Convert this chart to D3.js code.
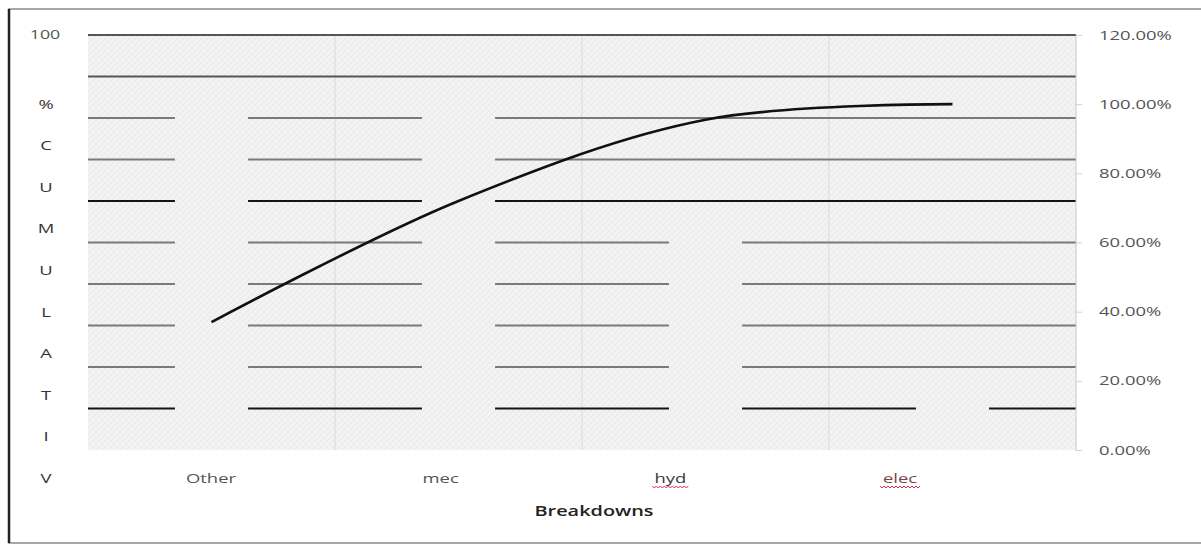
<!DOCTYPE html>
<html>
<head>
<meta charset="utf-8">
<script src="https://cdn.jsdelivr.net/npm/d3@7"></script>
<style>
  html, body { margin: 0; padding: 0; background: #fff; }
  svg { display: block; font-family: "Open Sans", "DejaVu Sans", sans-serif; }
</style>
</head>
<body>
<svg id="chart" width="1201" height="545"></svg>
<script>
// Breakdown categories and their counts (bars, left axis)
const categories = ["Other", "mec", "hyd", "elec"];
const counts = [88, 83, 56, 11];
// Cumulative share per category (line, right axis)
const cumulative = [0.37, 0.72, 0.955, 1.0];
// Axis tick values
const leftTicks = [10, 20, 30, 40, 50, 60, 70, 80, 90, 100];
const rightTicks = [0, 0.2, 0.4, 0.6, 0.8, 1.0, 1.2];
const strongTicks = [60, 10];
const titleLetters = ["%", "C", "U", "M", "U", "L", "A", "T", "I", "V"];

const svg = d3.select("#chart");
const plot = { left: 88, right: 1076, top: 35, bottom: 450 };
const STRETCH = 1.42; // wide lettering used throughout the chart

// Places a horizontally widened label at (x, y)
function label(parent, x, y, txt, opts) {
  const g = parent.append("g").attr("transform", `translate(${x},${y}) scale(${STRETCH},1)`);
  return g.append("text")
    .attr("dy", "0.35em")
    .attr("text-anchor", opts.anchor || "middle")
    .attr("font-size", opts.size || 13)
    .attr("font-weight", opts.weight || 400)
    .attr("fill", opts.fill || "#555")
    .text(txt);
}

// Outer frame
svg.append("rect")
  .attr("x", 9).attr("y", 9).attr("width", 1200).attr("height", 534)
  .attr("fill", "#fff").attr("stroke", "#8a8a8a").attr("stroke-width", 1.5);
svg.append("line")
  .attr("x1", 9).attr("x2", 9).attr("y1", 9).attr("y2", 543)
  .attr("stroke", "#222").attr("stroke-width", 2.5);

// Textured fill shared by plot background and bars
const defs = svg.append("defs");
const pat = defs.append("pattern")
  .attr("id", "tex").attr("patternUnits", "userSpaceOnUse")
  .attr("width", 6).attr("height", 6);
pat.append("rect").attr("width", 6).attr("height", 6).attr("fill", "#f3f3f3");
pat.append("path").attr("d", "M0,6 L6,0").attr("stroke", "#e8e8e8").attr("stroke-width", 1);
pat.append("path").attr("d", "M0,0 L6,6").attr("stroke", "#eeeeee").attr("stroke-width", 0.7);

// Scales
const x = d3.scaleBand().domain(categories)
  .range([plot.left, plot.right]).paddingInner(0.704).paddingOuter(0.352);
const yLeft = d3.scaleLinear().domain([0, 100]).range([plot.bottom, plot.top]);
const yRight = d3.scaleLinear().domain([0, 1.2]).range([plot.bottom, plot.top]);
const xLabel = d3.scalePoint().domain(categories).range([211, 900]);
const cx = c => x(c) + x.bandwidth() / 2;

// Plot background
svg.append("rect")
  .attr("x", plot.left).attr("y", plot.top)
  .attr("width", plot.right - plot.left).attr("height", plot.bottom - plot.top)
  .attr("fill", "url(#tex)");

// Faint category dividers
svg.append("g").selectAll("line")
  .data(categories.slice(1))
  .join("line")
  .attr("x1", d => x(d) - x.step() * x.paddingInner() / 2)
  .attr("x2", d => x(d) - x.step() * x.paddingInner() / 2)
  .attr("y1", plot.top).attr("y2", plot.bottom)
  .attr("stroke", "#e2e2e2").attr("stroke-width", 1.5);

// Horizontal gridlines
svg.append("g").selectAll("line")
  .data(leftTicks)
  .join("line")
  .attr("x1", plot.left).attr("x2", plot.right)
  .attr("y1", d => yLeft(d)).attr("y2", d => yLeft(d))
  .attr("stroke", d => strongTicks.includes(d) ? "#151515" : (d >= 90 ? "#555" : "#7a7a7a"))
  .attr("stroke-width", d => strongTicks.includes(d) ? 2.2 : 1.8);

// Bars in the same texture, so they mask the gridlines behind them
svg.append("g").selectAll("rect")
  .data(categories)
  .join("rect")
  .attr("x", d => x(d))
  .attr("width", x.bandwidth())
  .attr("y", (d, i) => yLeft(counts[i]))
  .attr("height", (d, i) => plot.bottom - yLeft(counts[i]))
  .attr("fill", "url(#tex)");

// Right plot edge and outward ticks
svg.append("line")
  .attr("x1", plot.right).attr("x2", plot.right)
  .attr("y1", plot.top).attr("y2", plot.bottom)
  .attr("stroke", "#c8c8c8").attr("stroke-width", 1);
const rightAxis = d3.axisRight(yRight)
  .tickValues(rightTicks)
  .tickFormat(d => (d * 100).toFixed(2) + "%")
  .tickSize(6).tickPadding(0);
const ra = svg.append("g").attr("transform", `translate(${plot.right},0)`).call(rightAxis);
ra.select(".domain").remove();
ra.selectAll(".tick line").attr("stroke", "#d0d0d0");
ra.selectAll(".tick text")
  .attr("x", null)
  .attr("transform", `translate(23,0) scale(${STRETCH},1)`)
  .attr("fill", "#555").attr("font-size", 13).attr("font-family", "Open Sans, sans-serif");

// Left axis: top label only
label(svg, 45, yLeft(100), "100", { size: 12.5 });

// Vertical axis title, one letter per row
titleLetters.forEach((d, i) => label(svg, 46, 104 + i * 41.6, d, { size: 13, fill: "#333" }));

// Cumulative line
const line = d3.line()
  .x((d, i) => cx(categories[i]))
  .y(d => yRight(d))
  .curve(d3.curveCatmullRom.alpha(0.5));
svg.append("path")
  .datum(cumulative)
  .attr("d", line)
  .attr("fill", "none").attr("stroke", "#111").attr("stroke-width", 2.6);

// Category labels
const labelColor = { Other: "#555", mec: "#555", hyd: "#3a3a3a", elec: "#7a4545" };
categories.forEach(c => label(svg, xLabel(c), 478, c, { size: 13, fill: labelColor[c] }));
// Spell-check squiggle under the short codes
svg.append("g").selectAll("path")
  .data(categories.filter(c => c === "hyd" || c === "elec"))
  .join("path")
  .attr("transform", d => `translate(${xLabel(d)},478)`)
  .attr("d", d => {
    const w = d === "hyd" ? 36 : 40;
    let p = `M${-w / 2},8`;
    for (let s = -w / 2 + 2, k = 1; s <= w / 2; s += 2, k++) p += ` L${s},${k % 2 ? 10 : 8}`;
    return p;
  })
  .attr("fill", "none").attr("stroke", "#d0304a").attr("stroke-width", 1);

// X axis title
label(svg, 594, 511, "Breakdowns", { size: 14, weight: 600, fill: "#222" });
</script>
</body>
</html>
